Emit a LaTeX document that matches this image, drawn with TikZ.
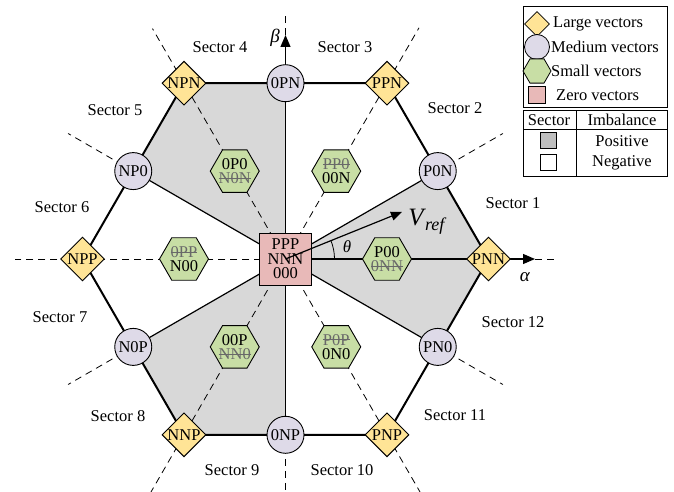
\documentclass[tikz,border=0pt]{standalone}
\usepackage{fontspec}
\setmainfont{Liberation Serif}
\usetikzlibrary{shapes.geometric,arrows.meta,backgrounds}
\definecolor{lgold}{RGB}{255,228,150}
\definecolor{lviolet}{RGB}{222,218,232}
\definecolor{lgreen}{RGB}{200,222,165}
\definecolor{lpink}{RGB}{232,185,184}
\definecolor{sgray}{RGB}{216,216,216}
\definecolor{pgray}{RGB}{190,190,190}
\definecolor{strkgray}{RGB}{105,105,105}
\newcommand{\strk}[1]{{\color{strkgray}\setbox0\hbox{#1}\rlap{\rule[0.3em]{\wd0}{0.7pt}}\box0}}
\begin{document}
\begin{tikzpicture}[x=1pt,y=1pt,
  font=\fontsize{16.5}{14.5}\selectfont,
  large/.style={diamond, draw=black, line width=0.9pt, fill=lgold, minimum size=44pt, inner sep=0pt},
  medium/.style={circle, draw=black, line width=0.9pt, fill=lviolet, minimum size=37pt, inner sep=0pt},
  small/.style={regular polygon, regular polygon sides=6, draw=black, line width=0.9pt, fill=lgreen, minimum size=49pt, inner sep=0pt},
  zero/.style={rectangle, draw=black, line width=0.9pt, fill=lpink, minimum size=52pt, inner sep=0pt, align=center, font=\fontsize{16.5}{14.5}\selectfont},
  vtext/.style={inner sep=0pt, align=center},
  lbl/.style={inner sep=0pt},
  dashline/.style={line width=0.8pt, dash pattern=on 7pt off 5pt},
  sectline/.style={line width=1.2pt},
  hexline/.style={line width=2pt, line join=miter},
  axis/.style={line width=1.2pt, -{Triangle[length=12pt,width=10pt]}},
  legbox/.style={line width=1pt}
]
\useasboundingbox (-285.5,-233) rectangle (388.5,259);

% zero vector
\node[zero] (Z) at (0,0) {PPP\\NNN\\000};

% large vectors
\node[large] (L0)   at (0:203)   {}; \node[vtext] (tL0)   at (L0)   {PNN};
\node[large] (L60)  at (60:203)  {}; \node[vtext] (tL60)  at (L60)  {PPN};
\node[large] (L120) at (120:203) {}; \node[vtext] (tL120) at (L120) {NPN};
\node[large] (L180) at (180:203) {}; \node[vtext] (tL180) at (L180) {NPP};
\node[large] (L240) at (240:203) {}; \node[vtext] (tL240) at (L240) {NNP};
\node[large] (L300) at (300:203) {}; \node[vtext] (tL300) at (L300) {PNP};

% medium vectors
\node[medium] (M30)  at (30:175.8)  {P0N};
\node[medium] (M90)  at (90:175.8)  {0PN};
\node[medium] (M150) at (150:175.8) {NP0};
\node[medium] (M210) at (210:175.8) {N0P};
\node[medium] (M270) at (270:175.8) {0NP};
\node[medium] (M330) at (330:175.8) {PN0};

% small vectors
\node[small] (S0)   at (0:101.5)   {}; \node[vtext] (tS0)   at (S0)   {P00\\\strk{0NN}};
\node[small] (S60)  at (60:101.5)  {}; \node[vtext] (tS60)  at (S60)  {\strk{PP0}\\00N};
\node[small] (S120) at (120:101.5) {}; \node[vtext] (tS120) at (S120) {0P0\\\strk{N0N}};
\node[small] (S180) at (180:101.5) {}; \node[vtext] (tS180) at (S180) {\strk{0PP}\\N00};
\node[small] (S240) at (240:101.5) {}; \node[vtext] (tS240) at (S240) {00P\\\strk{NN0}};
\node[small] (S300) at (300:101.5) {}; \node[vtext] (tS300) at (S300) {\strk{P0P}\\0N0};

% free ends
\coordinate (e60)  at (60:267);
\coordinate (e120) at (120:266);
\coordinate (e180) at (180:270);
\coordinate (e240) at (240:269);
\coordinate (e300) at (300:269);
\coordinate (e30)  at (30:251);
\coordinate (e150) at (150:251);
\coordinate (e210) at (210:251);
\coordinate (e330) at (330:251);
\coordinate (e270) at (270:233);
\coordinate (atip) at (0:249.5);
\coordinate (e0)   at (0:272.5);
\coordinate (btip) at (90:224);
\coordinate (e90)  at (90:248);
\coordinate (vtip) at (22:125.6);

\begin{scope}[on background layer]
  % positive imbalance sectors
  \fill[sgray] (Z.center) -- (M30.center) -- (L0.center) -- (M330.center) -- cycle;
  \fill[sgray] (Z.center) -- (M90.center) -- (L120.center) -- (M150.center) -- cycle;
  \fill[sgray] (Z.center) -- (M210.center) -- (L240.center) -- (M270.center) -- cycle;
  % dashed lines
  \draw[dashline] (Z.center) -- (L60.center) -- (e60);
  \draw[dashline] (Z.center) -- (L120.center) -- (e120);
  \draw[dashline] (Z.center) -- (L180.center) -- (e180);
  \draw[dashline] (Z.center) -- (L240.center) -- (e240);
  \draw[dashline] (Z.center) -- (L300.center) -- (e300);
  \draw[dashline] (M30.center) -- (e30);
  \draw[dashline] (M150.center) -- (e150);
  \draw[dashline] (M210.center) -- (e210);
  \draw[dashline] (M330.center) -- (e330);
  \draw[dashline] (M270.center) -- (e270);
  \draw[dashline] (atip) -- (e0);
  \draw[dashline] (btip) -- (e90);
  % solid sector lines
  \draw[sectline] (Z.center) -- (M30.center);
  \draw[sectline] (Z.center) -- (M150.center);
  \draw[sectline] (Z.center) -- (M210.center);
  \draw[sectline] (Z.center) -- (M270.center);
  \draw[sectline] (Z.center) -- (M330.center);
  % axes
  \draw[axis] (Z.center) -- (atip);
  \draw[axis] (Z.center) -- (btip);
  % hexagon outline
  \draw[hexline] (L0.center) -- (M30.center) -- (L60.center) -- (M90.center) -- (L120.center) -- (M150.center) -- (L180.center) -- (M210.center) -- (L240.center) -- (M270.center) -- (L300.center) -- (M330.center) -- cycle;
\end{scope}

% reference vector
\draw[line width=1.2pt, -{Triangle[length=11pt,width=9pt]}] (Z.center) -- (vtip);
\draw[line width=0.8pt] (Z.center) ++(0:49) arc[start angle=0, end angle=22, radius=49];
\node[lbl] (theta) at (61.5,12) {\fontsize{17}{17}\selectfont\textit{θ}};
\node[lbl] (vref) at (142,37) {\fontsize{25}{25}\selectfont\textit{V}\kern-1pt\raisebox{-5pt}{\fontsize{18}{18}\selectfont\textit{ref}}};
\node[lbl] (alpha) at (239.5,-18) {\fontsize{19}{19}\selectfont\textit{α}};
\node[lbl] (beta) at (-10.5,221) {\fontsize{19}{19}\selectfont\textit{β}};

% sector labels
\node[lbl] (s1)  at (227.5,56)   {Sector 1};
\node[lbl] (s2)  at (169.5,151)  {Sector 2};
\node[lbl] (s3)  at (59.5,212)   {Sector 3};
\node[lbl] (s4)  at (-65.5,212)  {Sector 4};
\node[lbl] (s5)  at (-170.5,149) {Sector 5};
\node[lbl] (s6)  at (-223.5,52)  {Sector 6};
\node[lbl] (s7)  at (-225.5,-58) {Sector 7};
\node[lbl] (s8)  at (-167.5,-157){Sector 8};
\node[lbl] (s9)  at (-53.5,-211) {Sector 9};
\node[lbl] (s10) at (56.5,-211)  {Sector 10};
\node[lbl] (s11) at (169.5,-156) {Sector 11};
\node[lbl] (s12) at (227.5,-63)  {Sector 12};

% legend
\draw[legbox] (237.5,252) rectangle (381.5,151);
\node[large, minimum size=25pt, line width=0.8pt] (legL) at (251.5,235) {};
\node[medium, minimum size=25pt, line width=0.8pt] (legM) at (251.5,212) {};
\node[small, minimum size=28pt, line width=0.8pt] (legS) at (251.5,188) {};
\node[zero, minimum size=17pt, line width=0.8pt] (legZ) at (251.5,164) {};
\node[lbl, anchor=west] (tlegL) at (267.5,235) {Large vectors};
\node[lbl, anchor=west] (tlegM) at (265.5,212) {Medium vectors};
\node[lbl, anchor=west] (tlegS) at (265.5,188) {Small vectors};
\node[lbl, anchor=west] (tlegZ) at (270.5,164) {Zero vectors};

\draw[legbox] (237.5,148) rectangle (381.5,82);
\draw[legbox] (237.5,129) -- (381.5,129);
\draw[legbox] (290.5,148) -- (290.5,82);
\node[lbl] (hsec) at (263.5,139) {Sector};
\node[lbl] (himb) at (336.5,139) {Imbalance};
\node[rectangle, draw=black, line width=0.8pt, fill=pgray, minimum size=16pt, inner sep=0pt] (pos) at (262.5,119) {};
\node[rectangle, draw=black, line width=0.8pt, fill=white, minimum size=16pt, inner sep=0pt] (neg) at (262.5,97) {};
\node[lbl] (tpos) at (336.5,118) {Positive};
\node[lbl] (tneg) at (336.5,96) {Negative};
\end{tikzpicture}
\end{document}
